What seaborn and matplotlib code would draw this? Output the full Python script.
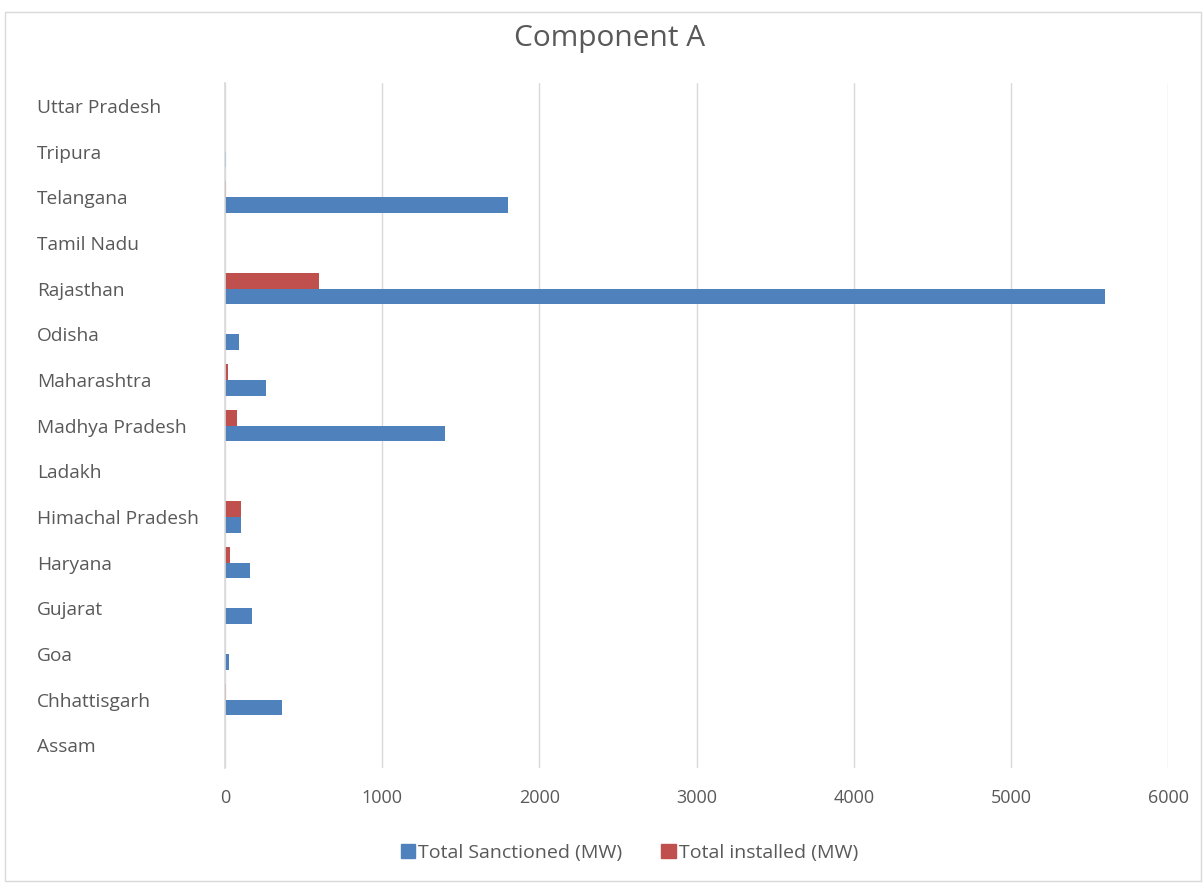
import matplotlib
matplotlib.use("Agg")
import matplotlib.pyplot as plt
import matplotlib.patches as mpatches
import seaborn as sns
import pandas as pd

states = ["Uttar Pradesh", "Tripura", "Telangana", "Tamil Nadu", "Rajasthan",
          "Odisha", "Maharashtra", "Madhya Pradesh", "Ladakh", "Himachal Pradesh",
          "Haryana", "Gujarat", "Goa", "Chhattisgarh", "Assam"]
sanctioned = [2, 5, 1800, 3, 5600, 90, 260, 1400, 1, 100, 160, 175, 25, 365, 2]
installed = [1, 0, 5, 2, 600, 0, 20, 75, 0, 100, 30, 0, 3, 5, 0]
x_ticks = [0, 1000, 2000, 3000, 4000, 5000, 6000]

S_LABEL = "Total Sanctioned (MW)"
I_LABEL = "Total installed (MW)"
BLUE = "#4F81BD"
RED = "#C0504D"
TXT = "#595959"

df = pd.DataFrame({
    "State": states * 2,
    "MW": sanctioned + installed,
    "Series": [S_LABEL] * len(states) + [I_LABEL] * len(states),
})

sns.set_style("white")
plt.rcParams["font.family"] = ["Open Sans", "DejaVu Sans"]

fig = plt.figure(figsize=(12.03, 8.85), dpi=100)
ax = fig.add_axes([0.187, 0.1322, 0.784, 0.774])

sns.barplot(data=df, y="State", x="MW", hue="Series", order=states,
            hue_order=[I_LABEL, S_LABEL], palette={S_LABEL: BLUE, I_LABEL: RED},
            orient="h", width=0.7, saturation=1, linewidth=0, errorbar=None,
            legend=False, ax=ax)

ax.set_xlim(0, 6000)
ax.set_xticks(x_ticks)
ax.set_xticklabels([str(t) for t in x_ticks], color=TXT, fontsize=13)
ax.set_xlabel("")
ax.set_ylabel("")
ax.grid(axis="x", color="#D9D9D9", linewidth=1)
ax.set_axisbelow(True)
for side in ["top", "right", "bottom"]:
    ax.spines[side].set_visible(False)
ax.spines["left"].set_color("#D9D9D9")
ax.spines["left"].set_linewidth(1.2)
ax.tick_params(axis="both", length=0)
ax.tick_params(axis="x", pad=15)
ax.tick_params(axis="y", pad=135.4)
for lbl in ax.get_yticklabels():
    lbl.set_horizontalalignment("left")
    lbl.set_color(TXT)
    lbl.set_fontsize(13.8)

fig.text(0.5065, 0.957, "Component A", ha="center", va="center",
         fontsize=21.5, color=TXT)

handles = [mpatches.Patch(color=BLUE, label=S_LABEL),
           mpatches.Patch(color=RED, label=I_LABEL)]
fig.legend(handles=handles, loc="center", bbox_to_anchor=(0.523, 0.036),
           ncol=2, frameon=False, fontsize=14, handlelength=0.75,
           handleheight=0.75, handletextpad=0.15, columnspacing=2.0,
           labelcolor=TXT)

border = mpatches.Rectangle((0.004, 0.004), 0.994, 0.982,
                            transform=fig.transFigure, fill=False,
                            edgecolor="#D9D9D9", linewidth=1)
fig.patches.append(border)

fig.savefig("out.png", dpi=100, facecolor="white")
